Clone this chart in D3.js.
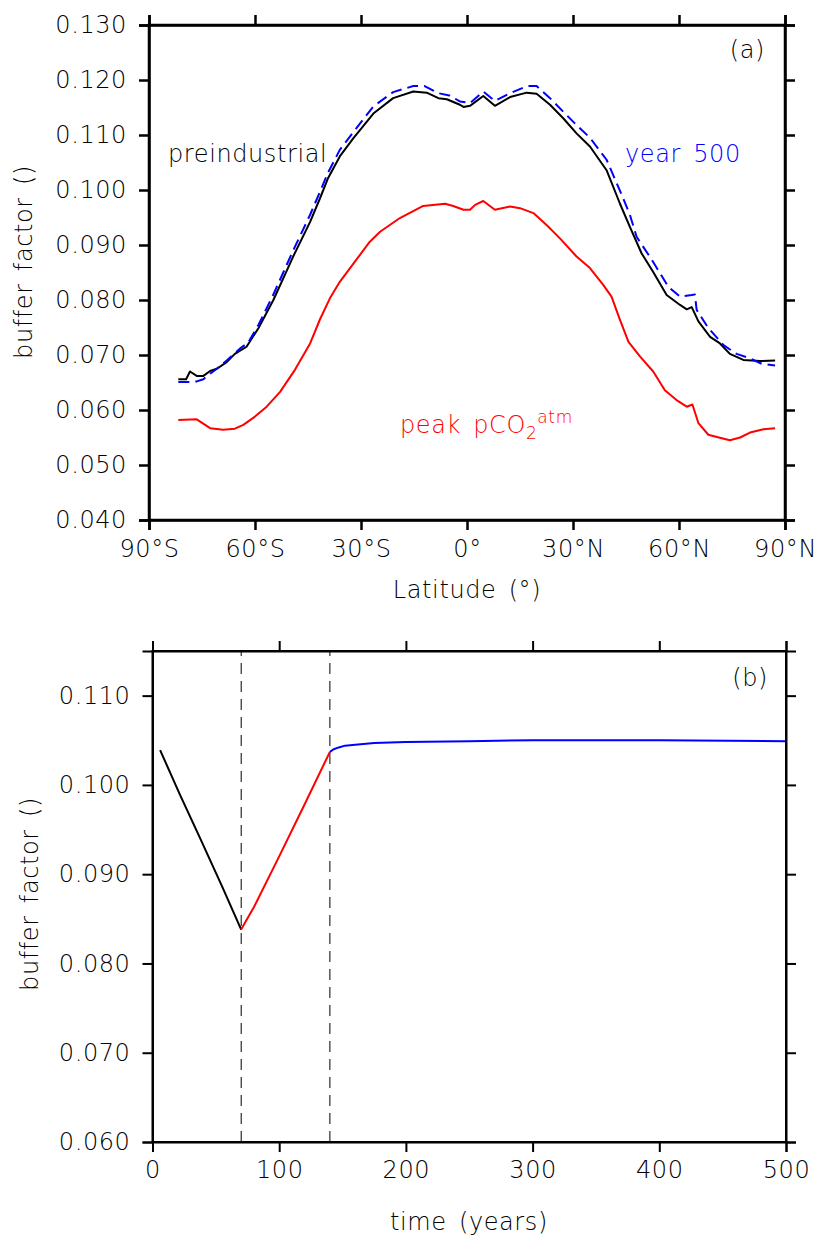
<!DOCTYPE html>
<html>
<head>
<meta charset="utf-8">
<script src="https://cdn.jsdelivr.net/npm/d3@7"></script>
<style>
  body { margin: 0; background: #fff; }
  svg text { font-family: "DejaVu Sans", sans-serif; font-weight: 200; fill: #000; letter-spacing: 0.6px; word-spacing: 4px; }
</style>
</head>
<body>
<svg id="chart"></svg>
<script>
// ---- panel (a): buffer factor vs latitude ----
const latPre = [-81.7, -79.5, -78.4, -76.5, -74.6, -72.7, -70.8, -68, -65.7, -62.4, -59, -54.8, -49.2, -44.4, -41.6, -39.3, -36, -32.2, -26.5, -20.9, -15.2, -11.4, -8.1, -5.7, -2, -1, 0.85, 4.6, 7.9, 12.2, 16.9, 19.7, 23.5, 27.3, 31, 34.8, 39.5, 43.3, 46.1, 49.4, 52.7, 56.5, 60.3, 62.2, 63.6, 65.5, 68.8, 71.6, 74.4, 78.2, 82.9, 87.2];
const bfPre = [0.0656, 0.0656, 0.0670, 0.0662, 0.0662, 0.0671, 0.0675, 0.0687, 0.0702, 0.0715, 0.0749, 0.0800, 0.0879, 0.0942, 0.0985, 0.1022, 0.1061, 0.1094, 0.1139, 0.1167, 0.1179, 0.1177, 0.1167, 0.1165, 0.1155, 0.1151, 0.1153, 0.1171, 0.1153, 0.1169, 0.1177, 0.1175, 0.1155, 0.1130, 0.1103, 0.1079, 0.1036, 0.0975, 0.0933, 0.0885, 0.0851, 0.0809, 0.0791, 0.0783, 0.0787, 0.0761, 0.0733, 0.0721, 0.0702, 0.0691, 0.0689, 0.0690];

const latY500 = [-81.7, -78.5, -76.5, -74.6, -72.7, -70.8, -68, -64.2, -62, -59, -54.8, -49.2, -44.4, -41.6, -39.3, -36, -32.2, -26.5, -20.9, -15.2, -12, -8.1, -5, -2, 0.85, 4.6, 7.9, 12.2, 17, 19.7, 23.5, 27.3, 31, 34.8, 39.5, 43.8, 46.1, 48, 52.3, 57, 60.3, 63.6, 64.5, 65, 68.3, 72.6, 76.3, 80.1, 83.4, 87.2];
const bfY500 = [0.0651, 0.0651, 0.0652, 0.0656, 0.0666, 0.0675, 0.0690, 0.0712, 0.0722, 0.0755, 0.0810, 0.0890, 0.0955, 0.0997, 0.1032, 0.1073, 0.1105, 0.1152, 0.1178, 0.1189, 0.1189, 0.1176, 0.1172, 0.1161, 0.1158, 0.1179, 0.1162, 0.1176, 0.1189, 0.1189, 0.1167, 0.1142, 0.1118, 0.1095, 0.1055, 0.0991, 0.0955, 0.0915, 0.0873, 0.0824, 0.0806, 0.0809, 0.0810, 0.0782, 0.0749, 0.0718, 0.0702, 0.0694, 0.0684, 0.0681];

const latPeak = [-81.7, -76.5, -72.7, -69, -65.7, -63.3, -60, -56.7, -52.9, -48.7, -44.4, -41.6, -38.8, -36, -33.1, -27.5, -24.6, -19, -12.4, -6.2, -3.9, -1, 0.85, 2.3, 4.6, 7.9, 12.2, 15, 18.8, 22.6, 26.3, 31, 34.8, 38.6, 40.9, 43.3, 45.7, 49, 52.7, 56, 59.3, 62.2, 63.8, 65.5, 68.3, 70.7, 74.4, 77.3, 80.1, 83.9, 87.2];
const bfPeak = [0.0582, 0.0583, 0.0567, 0.0564, 0.0566, 0.0573, 0.0588, 0.0606, 0.0633, 0.0673, 0.0721, 0.0765, 0.0803, 0.0833, 0.0858, 0.0906, 0.0924, 0.0949, 0.0971, 0.0975, 0.0971, 0.0964, 0.0964, 0.0973, 0.0980, 0.0964, 0.0970, 0.0967, 0.0958, 0.0936, 0.0912, 0.0879, 0.0858, 0.0827, 0.0806, 0.0764, 0.0724, 0.0697, 0.0670, 0.0636, 0.0618, 0.0606, 0.0610, 0.0576, 0.0555, 0.0551, 0.0545, 0.0550, 0.0559, 0.0565, 0.0567];

const latTicks = [-90, -60, -30, 0, 30, 60, 90];
const latTickLabels = ["90°S", "60°S", "30°S", "0°", "30°N", "60°N", "90°N"];
const bfTicksA = [0.04, 0.05, 0.06, 0.07, 0.08, 0.09, 0.10, 0.11, 0.12, 0.13];

// ---- panel (b): buffer factor vs time ----
const tRise = [6, 22, 37, 55, 70];
const bfRise = [0.1039, 0.0988, 0.0942, 0.0886, 0.0838];
const tPeak = [70, 74, 80, 100, 120, 140];
const bfPeakT = [0.0838, 0.0848, 0.0863, 0.0920, 0.0978, 0.1037];
const tAfter = [140, 143, 147, 152, 160, 175, 200, 250, 300, 400, 500];
const bfAfter = [0.1037, 0.1040, 0.1042, 0.1044, 0.1045, 0.1047, 0.1048, 0.1049, 0.1050, 0.1050, 0.1049];
const phaseMarks = [70, 140];

const timeTicks = [0, 100, 200, 300, 400, 500];
const bfTicksB = [0.06, 0.07, 0.08, 0.09, 0.10, 0.11];

const svg = d3.select("#chart").attr("width", 819).attr("height", 1238);
const fmt = d3.format(".3f");

function zip(xs, ys) {
    return xs.map((x, i) => ({x: x, y: ys[i]}));
}

function drawFrame(g, x, y, xTicks, xLabels, yTicks, opt) {
    const [x0, x1] = x.range();
    const [y0, y1] = y.range();
    const frame = [
        {ax: d3.axisBottom(x).tickValues(xTicks).tickFormat((d, i) => xLabels[i]).tickPadding(opt.xPad), at: [0, y0]},
        {ax: d3.axisTop(x).tickValues(xTicks).tickFormat(""), at: [0, y1]},
        {ax: d3.axisLeft(y).tickValues(yTicks).tickFormat(fmt).tickPadding(opt.yPad), at: [x0, 0]},
        {ax: d3.axisRight(y).tickValues(yTicks).tickFormat(""), at: [x1, 0]}
    ];
    frame.forEach((f) => {
        const a = g.append("g")
            .attr("transform", `translate(${f.at[0]},${f.at[1]})`)
            .call(f.ax.tickSizeOuter(0).tickSize(opt.tick));
        a.select(".domain").attr("stroke", "#000").attr("stroke-width", opt.lw);
        a.selectAll(".tick line").attr("stroke", "#000").attr("stroke-width", opt.lw);
        a.selectAll(".tick text").attr("font-size", 24).attr("font-family", null).attr("fill", "#000");
    });
    // close the corners
    g.append("rect")
        .attr("x", x0).attr("y", y1)
        .attr("width", x1 - x0).attr("height", y0 - y1)
        .attr("fill", "none").attr("stroke", "#000").attr("stroke-width", opt.lw);
}

function drawLine(g, x, y, data, color, dash) {
    const line = d3.line().x((d) => x(d.x)).y((d) => y(d.y));
    g.append("path")
        .datum(data)
        .attr("d", line)
        .attr("fill", "none")
        .attr("stroke", color)
        .attr("stroke-width", 2)
        .attr("stroke-linejoin", "round")
        .attr("stroke-dasharray", dash || null);
}

// panel (a)
const gA = svg.append("g");
const xA = d3.scaleLinear().domain([-90, 90]).range([149, 785]);
const yA = d3.scaleLinear().domain([0.04, 0.13]).range([520, 25]);
drawLine(gA, xA, yA, zip(latPeak, bfPeak), "#ff0000");
drawLine(gA, xA, yA, zip(latPre, bfPre), "#000000");
drawLine(gA, xA, yA, zip(latY500, bfY500), "#0000ff", "11,6");
drawFrame(gA, xA, yA, latTicks, latTickLabels, bfTicksA, {tick: 10, lw: 2.5, xPad: 10, yPad: 12});

gA.append("text").attr("x", 467).attr("y", 598).attr("text-anchor", "middle")
    .attr("font-size", 24).text("Latitude (°)");
gA.append("text").attr("transform", "translate(32,262) rotate(-90)").attr("text-anchor", "middle")
    .attr("font-size", 24).text("buffer factor ()");
gA.append("text").attr("x", 765).attr("y", 58).attr("text-anchor", "end")
    .attr("font-size", 24).text("(a)");
gA.append("text").attr("x", 168).attr("y", 162).attr("font-size", 24).text("preindustrial");
gA.append("text").attr("x", 625).attr("y", 162).attr("font-size", 24).style("fill", "#0000ff").text("year 500");
const peakLabel = gA.append("text").attr("x", 400).attr("y", 433).attr("font-size", 24).style("fill", "#ff0000");
peakLabel.append("tspan").text("peak pCO");
peakLabel.append("tspan").attr("font-size", 17).attr("dy", 6).text("2");
peakLabel.append("tspan").attr("font-size", 17).attr("dy", -16).text("atm");

// panel (b)
const gB = svg.append("g");
const xB = d3.scaleLinear().domain([0, 500]).range([152.5, 786]);
const yB = d3.scaleLinear().domain([0.06, 0.115]).range([1142, 651]);
gB.selectAll(".phase")
    .data(phaseMarks).enter()
    .append("line")
    .attr("class", "phase")
    .attr("x1", (d) => xB(d)).attr("x2", (d) => xB(d))
    .attr("y1", yB(0.06)).attr("y2", yB(0.115))
    .attr("stroke", "#000").attr("stroke-width", 1)
    .attr("stroke-dasharray", "11,7");
drawLine(gB, xB, yB, zip(tRise, bfRise), "#000000");
drawLine(gB, xB, yB, zip(tPeak, bfPeakT), "#ff0000");
drawLine(gB, xB, yB, zip(tAfter, bfAfter), "#0000ff");
drawFrame(gB, xB, yB, timeTicks, timeTicks.map(String), bfTicksB, {tick: 10, lw: 2, xPad: 9, yPad: 12});

gB.append("text").attr("x", 469).attr("y", 1230).attr("text-anchor", "middle")
    .attr("font-size", 24).text("time (years)");
gB.append("text").attr("transform", "translate(38,894) rotate(-90)").attr("text-anchor", "middle")
    .attr("font-size", 24).text("buffer factor ()");
gB.append("text").attr("x", 768).attr("y", 686).attr("text-anchor", "end")
    .attr("font-size", 24).text("(b)");
</script>
</body>
</html>
